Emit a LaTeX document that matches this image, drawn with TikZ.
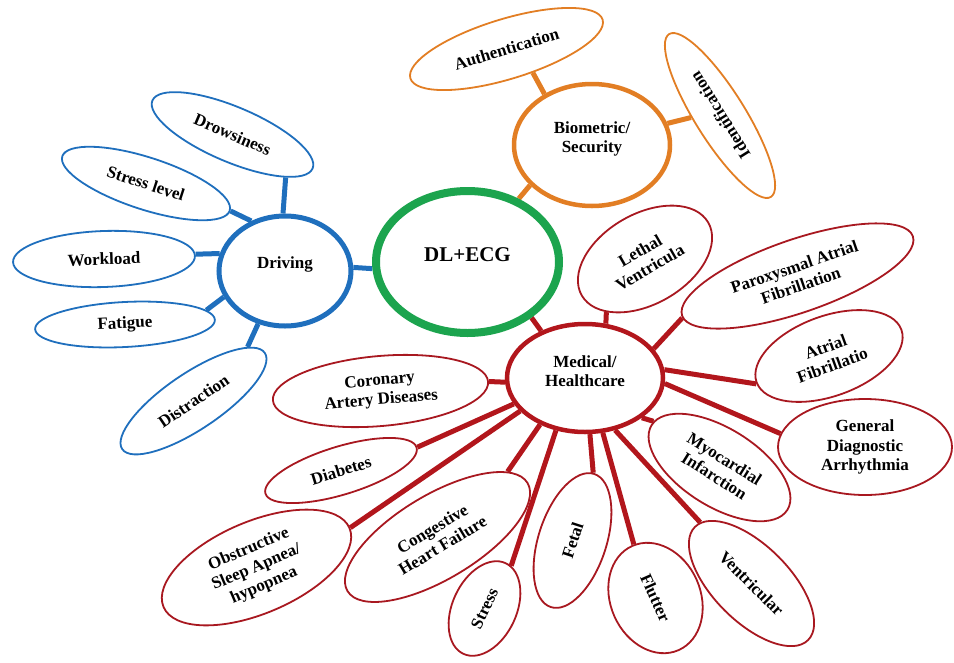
\documentclass[tikz,border=0pt]{standalone}
\usepackage{fontspec}
\setmainfont{Liberation Serif}
\usetikzlibrary{shapes.geometric}

\definecolor{drvblue}{RGB}{31,111,189}
\definecolor{bioorange}{RGB}{226,126,36}
\definecolor{ecggreen}{RGB}{28,164,78}
\definecolor{medred}{RGB}{178,22,28}
\definecolor{satred}{RGB}{168,24,32}

\pgfdeclarelayer{bg}
\pgfsetlayers{bg,main}

\tikzset{
  txt/.style={font=\fontsize{17}{19.5}\selectfont\bfseries, align=center},
  sz/.style 2 args={minimum width=#1pt, minimum height=#2pt},
  sat/.style={ellipse, draw, line width=1.8pt, fill=white, inner sep=0pt, txt},
  bsat/.style={sat, draw=drvblue},
  osat/.style={sat, draw=bioorange},
  rsat/.style={sat, draw=satred},
  hub/.style={ellipse, draw, fill=white, inner sep=0pt},
  link/.style={line width=5pt},
}

\begin{document}
\begin{tikzpicture}[x=1pt, y=-1pt]
\useasboundingbox (0,0) rectangle (954,662);

% hubs
\node[hub, draw=ecggreen, line width=8pt, sz={183}{142}] (ecg) at (467.5,262) {};
\node[txt, font=\fontsize{21}{24}\selectfont\bfseries] at ([yshift=7pt]ecg.center) {DL+ECG};
\node[hub, draw=drvblue, line width=5pt, sz={132}{110}] (drv) at (285,271) {};
\node[txt] at ([yshift=7pt]drv.center) {Driving};
\node[hub, draw=bioorange, line width=4.5pt, sz={156}{122}] (bio) at (592,145) {};
\node[txt] at ([yshift=6pt]bio.center) {Biometric/\\Security};
\node[hub, draw=medred, line width=4.5pt, sz={156}{108}] (med) at (585,378) {};
\node[txt] at ([yshift=7pt]med.center) {Medical/\\Healthcare};

% driving
\node[bsat, rotate=-23, sz={174}{55}] (drow) at (232.5,134.5) {Drowsiness};
\node[bsat, rotate=-18, sz={176}{52}] (slvl) at (146,183.5) {Stress level};
\node[bsat, rotate=2, sz={182}{56}] (work) at (104,259) {Workload};
\node[bsat, rotate=3, sz={180}{45}] (fatg) at (125,324.5) {Fatigue};
\node[bsat, rotate=34, sz={172}{56}] (dist) at (193.5,401) {Distraction};

% biometric
\node[osat, rotate=17, sz={201}{60}] (auth) at (506.5,49) {Authentication};
\node[osat, rotate=122, sz={192}{50}] (iden) at (720,115.5) {Identification};

% medical
\node[rsat, rotate=30, sz={146}{90}] (leth) at (645,259) {Lethal\\Ventricula};
\node[rsat, rotate=19, sz={244}{73}] (parx) at (797.5,276) {Paroxysmal Atrial\\Fibrillation};
\node[rsat, rotate=20, sz={154}{80}] (atrf) at (829,356) {Atrial\\Fibrillatio};
\node[rsat, sz={174}{96}] (gdar) at (865,447) {General\\Diagnostic\\Arrhythmia};
\node[rsat, rotate=-32, sz={160}{78}] (myoc) at (719.5,467.5) {Myocardial\\Infarction};
\node[rsat, rotate=-45, sz={160}{76}] (vent) at (751.5,583.5) {Ventricular};
\node[rsat, rotate=-66, sz={114}{90}] (flut) at (655.5,598) {Flutter};
\node[rsat, rotate=72, sz={140}{68}] (fetl) at (572.5,540.5) {Fetal};
\node[rsat, rotate=65, sz={100}{64}] (strs) at (484.5,608.5) {Stress};
\node[rsat, rotate=31, sz={210}{84}] (chf) at (437.5,537) {Congestive\\Heart Failure};
\node[rsat, rotate=23, sz={202}{92}] (osa) at (256.5,567.5) {Obstructive\\Sleep Apnea/\\hypopnea};
\node[rsat, rotate=17, sz={158}{48}] (diab) at (341,470.5) {Diabetes};
\node[rsat, rotate=5, sz={216}{70}] (cad) at (380.5,391) {Coronary\\Artery Diseases};

\begin{pgfonlayer}{bg}
  % driving branch
  \begin{scope}[link, draw=drvblue]
    \draw (drv.3) -- (ecg.184);
    \draw (drv.92) -- (drow.-16);
    \draw (drv.124) -- (slvl.0);
    \draw (drv.165) -- (work.1);
    \draw (drv.203) -- (fatg.7);
    \draw (drv.243) -- (dist.11);
  \end{scope}
  % biometric branch
  \begin{scope}[link, draw=bioorange]
    \draw (ecg.51) -- (bio.213);
    \draw (bio.133) -- (auth.-59);
    \draw (bio.16) -- (iden.62);
  \end{scope}
  % medical branch
  \begin{scope}[link, draw=medred]
    \draw (ecg.319) -- (med.133);
    \draw (med.69) -- (leth.204);
    \draw (med.23) -- (parx.181);
    \draw (med.6) -- (atrf.181);
    \draw (med.-4) -- (gdar.171);
    \draw (med.-35) -- (myoc.177);
    \draw (med.-60) -- (vent.175);
    \draw (med.-72) -- (flut.178);
    \draw (med.-85) -- (fetl.1);
    \draw (med.241) -- (strs.-7);
    \draw (med.226) -- (chf.12);
    \draw (med.207) -- (osa.0);
    \draw (med.200) -- (diab.0);
    \draw (med.183) -- (cad.0);
  \end{scope}
\end{pgfonlayer}
\end{tikzpicture}
\end{document}
